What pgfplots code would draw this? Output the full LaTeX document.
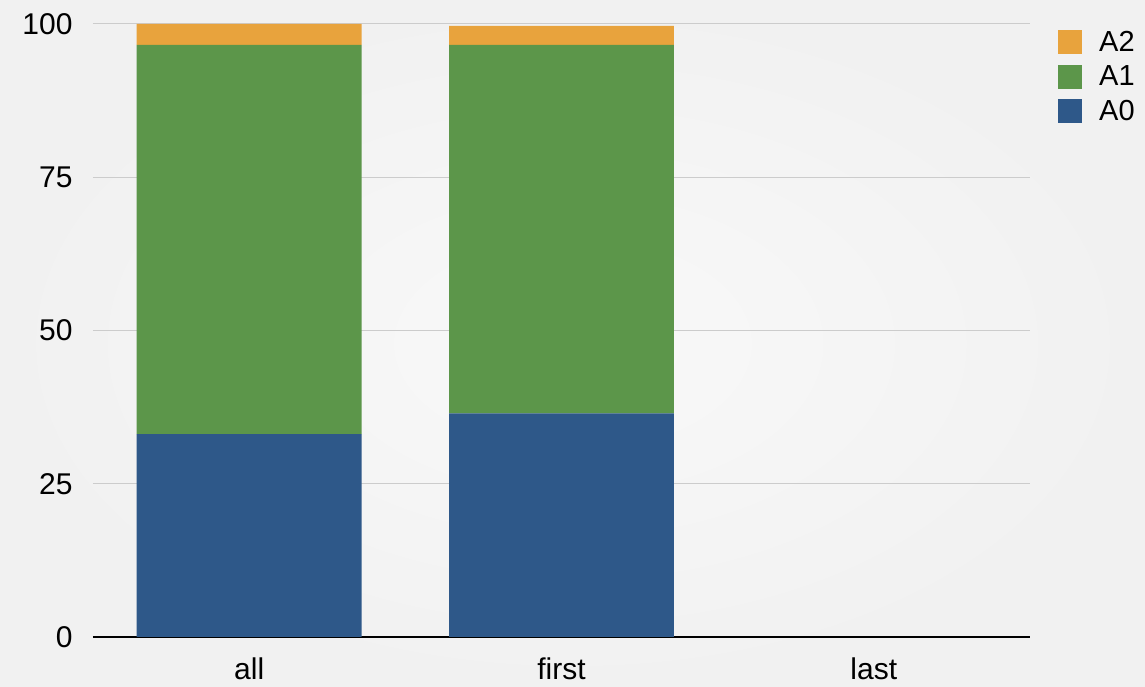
\documentclass[border=0pt]{standalone}
\usepackage{fontspec}
\setmainfont{Liberation Sans}
\usepackage{pgfplots}
\pgfplotsset{compat=1.18}
\definecolor{cA2}{RGB}{232,163,61}
\definecolor{cA1}{RGB}{92,150,74}
\definecolor{cA0}{RGB}{46,88,137}
\definecolor{bgout}{RGB}{241,241,241}
\definecolor{bgin}{RGB}{249,249,249}
\begin{document}
\begin{tikzpicture}[x=1pt,y=1pt]
\shade[inner color=bgin, outer color=bgout] (-93pt,-50pt) rectangle (1052pt,637pt);
\path[use as bounding box] (-93pt,-50pt) rectangle (1052pt,637pt);
\begin{axis}[
  at={(0pt,0pt)}, anchor=south west,
  scale only axis, width=937pt, height=613pt,
  ybar stacked, bar width=0.72,
  xmin=-0.5, xmax=2.5, ymin=0, ymax=100,
  xtick={0,1,2}, xticklabels={all,first,last},
  ytick={0,25,50,75,100},
  axis x line*=bottom, axis y line*=left,
  y axis line style={draw=none},
  x axis line style={black, line width=1.4pt},
  major tick length=0pt,
  ymajorgrids, grid style={draw=black!20, line width=1pt},
  tick label style={font=\fontsize{30}{35}\selectfont},
  /pgf/number format/assume math mode=true,
  yticklabel style={xshift=-17pt},
  xticklabel style={yshift=-17pt},
  legend style={draw=none, fill=none, at={(1.0299,0.992)}, anchor=north west,
    font=\fontsize{29}{34}\selectfont, row sep=9pt, inner sep=0pt,
    /tikz/every odd column/.append style={column sep=15pt}},
  legend cell align=left,
  reverse legend,
  legend image code/.code={\fill[#1] (0pt,-12pt) rectangle (24pt,12pt);},
]
\addplot+[fill=cA0, draw=none] coordinates {(0,33.1) (1,36.5)};
\addplot+[fill=cA1, draw=none] coordinates {(0,63.5) (1,60.1)};
\addplot+[fill=cA2, draw=none] coordinates {(0,3.4) (1,3.1)};
\legend{A0,A1,A2}
\end{axis}
\end{tikzpicture}
\end{document}
